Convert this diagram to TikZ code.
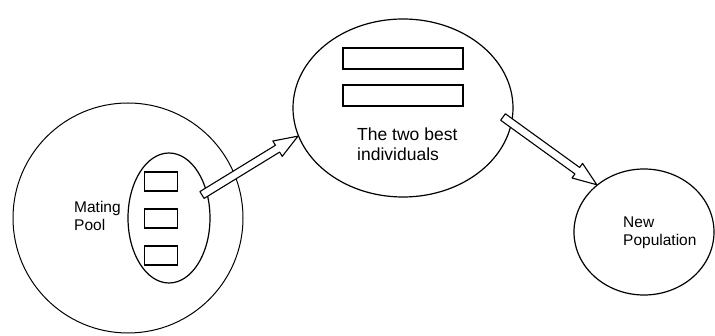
\documentclass[tikz,border=0pt]{standalone}
\usepackage{fontspec}
\setmainfont{Liberation Sans}
\usetikzlibrary{calc,shapes.geometric}
\tikzset{
  outline/.style={draw=black, line width=1.2pt, ellipse, inner sep=0pt},
  slot/.style={draw=black, line width=1.1pt, rectangle, inner sep=0pt},
  label/.style={align=left, inner sep=0pt, font=\fontsize{15.5}{18.5}\selectfont},
  arrowline/.style={draw=black, fill=white, line width=1.1pt, line join=round},
}
\newcommand\hollowarrow[2]{%
  \coordinate (H) at ($(#2)!24pt!(#1)$);
  \draw[arrowline] ($(#1)!4pt!90:(#2)$) -- ($(H)!4pt!90:(#2)$) -- ($(H)!9pt!90:(#2)$)
    -- (#2) -- ($(H)!9pt!-90:(#2)$) -- ($(H)!4pt!-90:(#2)$) -- ($(#1)!4pt!-90:(#2)$) -- cycle;
}
\begin{document}
\begin{tikzpicture}[x=1pt, y=-1pt]
  \useasboundingbox (0,0) rectangle (715,336);
  % left big circle with mating pool
  \node[outline, line width=1pt, minimum width=230pt, minimum height=230pt] (big) at (128,218) {};
  \node[outline, minimum width=82pt, minimum height=130pt] (pool) at (169,218) {};
  \node[slot, minimum width=33pt, minimum height=19pt] (p1) at (161,181.5) {};
  \node[slot, minimum width=33pt, minimum height=19pt] (p2) at (161,218.5) {};
  \node[slot, minimum width=33pt, minimum height=19pt] (p3) at (161,255.5) {};
  \node[label, anchor=west] (mt) at (74,216) {Mating\\Pool};
  % middle ellipse
  \node[outline, minimum width=220pt, minimum height=178pt] (mid) at (403,108) {};
  \node[slot, minimum width=120pt, minimum height=21pt] (b1) at (403,58.5) {};
  \node[slot, minimum width=120pt, minimum height=21pt] (b2) at (403,95.5) {};
  \node[label, anchor=west, font=\fontsize{17.5}{19.5}\selectfont] (bt) at (357,144) {The two best\\individuals};
  % new population
  \node[outline, minimum width=140pt, minimum height=126pt] (new) at (644,232) {};
  \node[label, anchor=west] (nt) at (623,233) {New\\Population};
  % arrows
  \coordinate (t1) at (202,195);
  \coordinate (e1) at (mid.195);
  \hollowarrow{t1}{e1}
  \coordinate (t2) at (503,117);
  \coordinate (e2) at (new.135);
  \hollowarrow{t2}{e2}
\end{tikzpicture}
\end{document}
